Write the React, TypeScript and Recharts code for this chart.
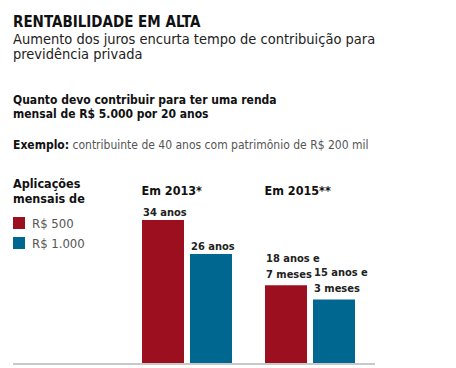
import React from "react";
import { BarChart, Bar, XAxis, YAxis, LabelList, Legend } from "recharts";

const periods = ["Em 2013*", "Em 2015**"];
const seriesNames = ["R$ 500", "R$ 1.000"];
const seriesColors = ["#9c0f1e", "#006791"];
const anos500 = [34, 18.58];
const anos1000 = [26, 15.25];
const labels500 = ["34 anos", "18 anos e\n7 meses"];
const labels1000 = ["26 anos", "15 anos e\n3 meses"];

const data = periods.map((p, i) => ({
  periodo: p,
  r500: anos500[i],
  r1000: anos1000[i],
  l500: labels500[i],
  l1000: labels1000[i],
}));

const FONT = '"DejaVu Sans Condensed", "DejaVu Sans", sans-serif';

const BarLabel = (props: any) => {
  const { x, y, value } = props;
  const lines = String(value).split("\n");
  const lh = 16;
  const start = lines.length > 1 ? y - 7 - (lines.length - 1) * lh : y - 4;
  return (
    <text x={x + 1} y={start} fill="#222" fontSize={11} fontWeight="bold" fontFamily={FONT} fontStretch="condensed">
      {lines.map((l, i) => (
        <tspan key={i} x={x + 1} dy={i === 0 ? 0 : lh}>{l}</tspan>
      ))}
    </text>
  );
};

const PeriodTick = ({ x, y, payload }: any) => (
  <text x={x - 45} y={y - 25} fill="#111" fontSize={12.5} fontWeight="bold" fontFamily={FONT} fontStretch="condensed">
    {payload.value}
  </text>
);

const LegendBox = ({ payload }: any) => {
  const items = [...(payload || [])].sort(
    (a: any, b: any) => seriesNames.indexOf(a.value) - seriesNames.indexOf(b.value)
  );
  return (
    <div style={{ fontFamily: FONT, fontStretch: "condensed" }}>
      <div style={{ fontSize: 12.5, fontWeight: "bold", lineHeight: "15px", color: "#111" }}>
        Aplicações<br />mensais de
      </div>
      <div style={{ marginTop: 7 }}>
        {items.map((p: any, i: number) => (
          <div key={i} style={{ display: "flex", alignItems: "center", height: 20, fontSize: 13, color: "#555" }}>
            <span style={{ width: 12, height: 12, background: p.color, display: "inline-block", marginRight: 7 }} />
            {p.value}
          </div>
        ))}
      </div>
    </div>
  );
};

export default function App() {
  return (
    <div style={{ position: "absolute", left: 0, top: 0, width: 456, height: 368, background: "#fff", fontFamily: FONT, fontStretch: "condensed" }}>
      <div style={{ position: "absolute", left: 13, top: 13, fontSize: 15, fontWeight: "bold", color: "#111", lineHeight: "18px", whiteSpace: "nowrap" }}>
        RENTABILIDADE EM ALTA
      </div>
      <div style={{ position: "absolute", left: 13, top: 32, fontSize: 14.5, color: "#222", lineHeight: "14.5px", whiteSpace: "nowrap" }}>
        <div>Aumento dos juros encurta tempo de contribuição para</div>
        <div>previdência privada</div>
      </div>
      <div style={{ position: "absolute", left: 13, top: 94, fontSize: 12, fontWeight: "bold", color: "#111", lineHeight: "13.5px", whiteSpace: "nowrap" }}>
        Quanto devo contribuir para ter uma renda<br />mensal de R$ 5.000 por 20 anos
      </div>
      <div style={{ position: "absolute", left: 13, top: 138, fontSize: 12, color: "#555", lineHeight: "14px", whiteSpace: "nowrap" }}>
        <b style={{ color: "#111" }}>Exemplo:</b> contribuinte de 40 anos com patrimônio de R$ 200 mil
      </div>
      <div style={{ position: "absolute", left: 0, top: 0 }}>
        <BarChart width={456} height={368} data={data} margin={{ top: 180, right: 81, bottom: 3, left: 13 }} barSize={42} barGap={6}>
          <XAxis xAxisId="top" orientation="top" dataKey="periodo" height={40} axisLine={false} tickLine={false} tickSize={0} tickMargin={0} tick={<PeriodTick />} padding={{ left: 112, right: 4 }} />
          <XAxis xAxisId="bottom" dataKey="periodo" height={1} tick={false} tickLine={false} axisLine={{ stroke: "#c8c8c8", strokeWidth: 2 }} padding={{ left: 112, right: 4 }} />
          <YAxis hide domain={[0, 34]} />
          <Legend layout="horizontal" verticalAlign="middle" content={<LegendBox />} wrapperStyle={{ position: "absolute", left: 13, top: 176, width: 120 }} />
          <Bar xAxisId="bottom" dataKey="r500" name={seriesNames[0]} fill={seriesColors[0]} isAnimationActive={false}>
            <LabelList dataKey="l500" content={<BarLabel />} />
          </Bar>
          <Bar xAxisId="bottom" dataKey="r1000" name={seriesNames[1]} fill={seriesColors[1]} isAnimationActive={false}>
            <LabelList dataKey="l1000" content={<BarLabel />} />
          </Bar>
        </BarChart>
      </div>
    </div>
  );
}
